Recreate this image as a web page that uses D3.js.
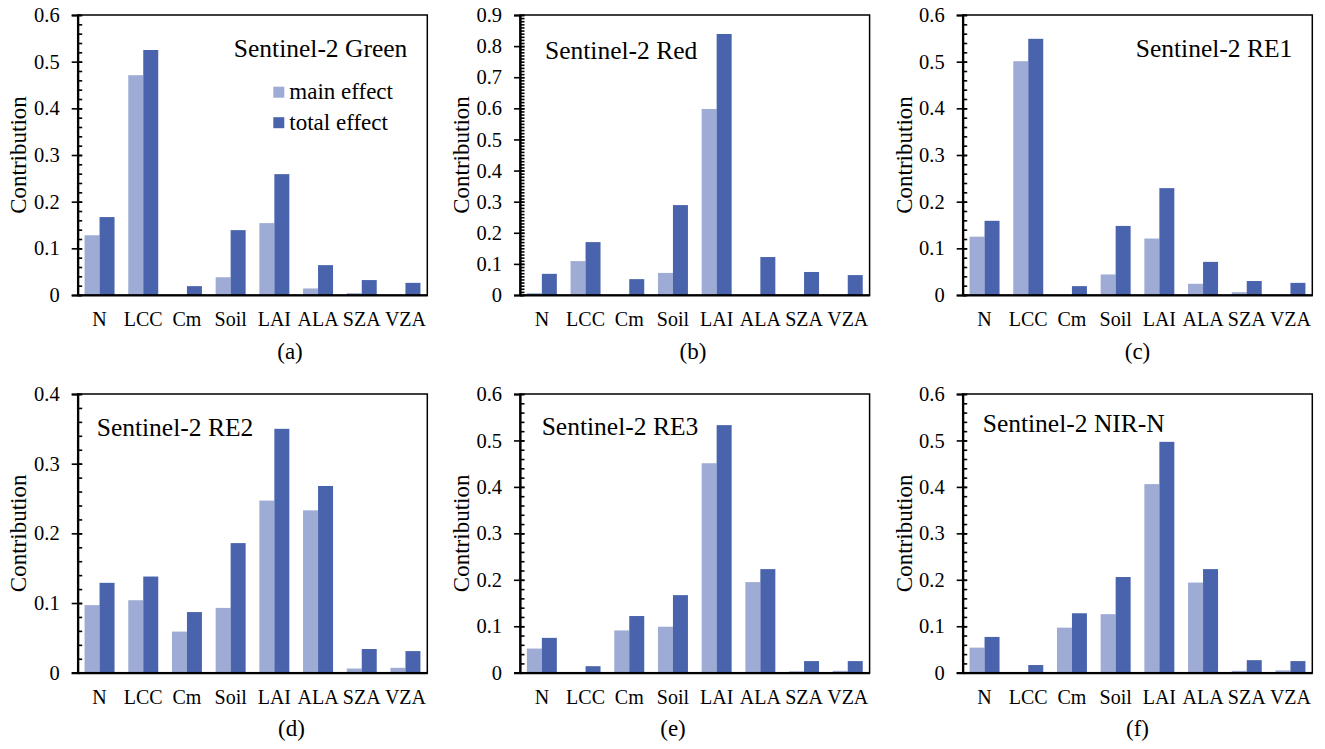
<!DOCTYPE html>
<html>
<head>
<meta charset="utf-8">
<script src="https://cdn.jsdelivr.net/npm/d3@7"></script>
<style>
  html, body { margin: 0; padding: 0; background: #ffffff; }
  svg { display: block; }
</style>
</head>
<body>
<svg id="chart" width="1325" height="749"></svg>
<script>
// ---------------- data ----------------
const categories = ["N", "LCC", "Cm", "Soil", "LAI", "ALA", "SZA", "VZA"];
const seriesNames = ["main effect", "total effect"];

const greenMain  = [0.128, 0.471, 0.000, 0.038, 0.154, 0.014, 0.004, 0.000];
const greenTotal = [0.167, 0.525, 0.019, 0.139, 0.259, 0.064, 0.032, 0.026];
const redMain    = [0.006, 0.109, 0.000, 0.071, 0.598, 0.000, 0.000, 0.000];
const redTotal   = [0.068, 0.170, 0.051, 0.289, 0.839, 0.122, 0.074, 0.064];
const re1Main    = [0.125, 0.501, 0.000, 0.044, 0.121, 0.024, 0.006, 0.000];
const re1Total   = [0.159, 0.549, 0.019, 0.148, 0.229, 0.071, 0.030, 0.026];
const re2Main    = [0.097, 0.104, 0.059, 0.093, 0.247, 0.233, 0.006, 0.007];
const re2Total   = [0.129, 0.138, 0.087, 0.186, 0.350, 0.268, 0.034, 0.031];
const re3Main    = [0.052, 0.000, 0.091, 0.099, 0.451, 0.195, 0.003, 0.004];
const re3Total   = [0.075, 0.014, 0.122, 0.167, 0.533, 0.223, 0.025, 0.025];
const nirMain    = [0.054, 0.000, 0.097, 0.126, 0.406, 0.194, 0.004, 0.005];
const nirTotal   = [0.077, 0.0165, 0.128, 0.206, 0.497, 0.223, 0.027, 0.025];

const panelTitles   = ["Sentinel-2 Green", "Sentinel-2 Red", "Sentinel-2 RE1", "Sentinel-2 RE2", "Sentinel-2 RE3", "Sentinel-2 NIR-N"];
const panelCaptions = ["(a)", "(b)", "(c)", "(d)", "(e)", "(f)"];
const yMax      = [0.6, 0.9, 0.6, 0.4, 0.6, 0.6];
const yMajor    = [0.1, 0.1, 0.1, 0.1, 0.1, 0.1];
const yMinor    = [0.02, 0.01, 0.02, 0.02, 0.02, 0.02];
const yTitle    = "Contribution";
const mainData  = [greenMain, redMain, re1Main, re2Main, re3Main, nirMain];
const totalData = [greenTotal, redTotal, re1Total, re2Total, re3Total, nirTotal];

// ---------------- font detection ----------------
const svg = d3.select("#chart");
function pickFont() {
  const cands = ["Liberation Serif", "Tinos", "Times New Roman", "Times", "Nimbus Roman", "Nimbus Roman No9 L", "FreeSerif", "Noto Serif", "DejaVu Serif"];
  const probe = svg.append("text").attr("x", -1000).attr("y", -1000).attr("font-size", 40).text("Contribution Wmil 0.123");
  probe.style("font-family", "monospace");
  const base = probe.node().getComputedTextLength();
  let found = null;
  for (const c of cands) {
    probe.style("font-family", `"${c}", monospace`);
    if (Math.abs(probe.node().getComputedTextLength() - base) > 0.5) { found = c; break; }
  }
  probe.remove();
  return found ? `"${found}", serif` : "serif";
}
const FONT = pickFont();

// ---------------- layout ----------------
const colors = ["#9eabd4", "#4a63ad"];
const W = 349.6, H = [280, 278.7];
const lefts = [77.7, 520, 962.7];
const tops = [15, 394];
const titleLayout = [
  {anchor: "end", dx: 20, dy: 41.7},
  {anchor: "start", dx: 25, dy: 44.3},
  {anchor: "end", dx: 20, dy: 42.3},
  {anchor: "start", dx: 19, dy: 42},
  {anchor: "start", dx: 21.7, dy: 41},
  {anchor: "start", dx: 20, dy: 38.3}
];
const captionX = [290, 693, 1137.5, 291.5, 673, 1137.5];
const captionDy = 63.5;

const fmt = d => d === 0 ? "0" : d3.format(".1f")(d);

for (let p = 0; p < 6; p++) {
  const col = p % 3, row = Math.floor(p / 3);
  const x0 = lefts[col], y0 = tops[row], h = H[row];
  const g = svg.append("g").attr("transform", `translate(${x0},${y0})`);

  const x = d3.scaleBand().domain(categories).range([0, W]).paddingInner(0.314).paddingOuter(0.157);
  const sub = d3.scaleBand().domain(seriesNames).range([0, x.bandwidth()]);
  const y = d3.scaleLinear().domain([0, yMax[p]]).range([h, 0]);

  const rows = categories.map((c, i) => ({cat: c, vals: [mainData[p][i], totalData[p][i]]}));
  const cg = g.selectAll("g.cat").data(rows).join("g")
    .attr("class", "cat")
    .attr("transform", d => `translate(${x(d.cat)},0)`);
  cg.selectAll("rect").data(d => d.vals.map((v, k) => ({k, v}))).join("rect")
    .attr("x", d => sub(seriesNames[d.k]))
    .attr("width", sub.bandwidth())
    .attr("y", d => y(d.v))
    .attr("height", d => h - y(d.v))
    .attr("fill", d => colors[d.k]);

  g.append("rect").attr("x", 0).attr("y", 0).attr("width", W).attr("height", h)
    .attr("fill", "none").attr("stroke", "#000").attr("stroke-width", 1.5);

  const nMinor = Math.round(yMax[p] / yMinor[p]);
  const minorVals = d3.range(0, nMinor + 1).map(i => +(i * yMinor[p]).toFixed(4));
  const minorAxis = g.append("g").call(d3.axisLeft(y).tickValues(minorVals).tickSize(-4.5).tickFormat(""));
  minorAxis.select(".domain").remove();
  minorAxis.selectAll("line").attr("stroke", "#000").attr("stroke-width", 1.6);

  const nMajor = Math.round(yMax[p] / yMajor[p]);
  const majorVals = d3.range(0, nMajor + 1).map(i => +(i * yMajor[p]).toFixed(4));
  const yAxis = g.append("g").call(d3.axisLeft(y).tickValues(majorVals).tickSizeOuter(0).tickSize(6).tickPadding(12).tickFormat(fmt));
  yAxis.attr("font-family", null).attr("font-size", null);
  yAxis.select(".domain").attr("stroke", "#000").attr("stroke-width", 2.2);
  yAxis.selectAll("line").attr("x1", 4.5).attr("x2", -6).attr("stroke", "#000").attr("stroke-width", 1.6);
  yAxis.selectAll("text").style("font-family", FONT).style("font-size", "20.5px").attr("fill", "#000").attr("x", -18);

  const xAxis = g.append("g").attr("transform", `translate(0,${h})`).call(d3.axisBottom(x).tickSize(0).tickSizeOuter(0));
  xAxis.attr("font-family", null).attr("font-size", null);
  xAxis.select(".domain").attr("stroke", "#000").attr("stroke-width", 2.2);
  xAxis.selectAll("text").style("font-family", FONT).style("font-size", "20px").attr("fill", "#000")
    .attr("y", 31).attr("dy", null);

  g.append("text")
    .attr("transform", `translate(${(col === 0 ? 26.5 : col === 1 ? 468.8 : 912) - x0},${h / 2}) rotate(-90)`)
    .attr("text-anchor", "middle")
    .style("font-family", FONT).style("font-size", "23px")
    .text(yTitle);

  const tl = titleLayout[p];
  g.append("text")
    .attr("x", tl.anchor === "end" ? W - tl.dx : tl.dx)
    .attr("y", tl.dy)
    .attr("text-anchor", tl.anchor)
    .style("font-family", FONT).style("font-size", "25.5px")
    .text(panelTitles[p]);

  svg.append("text")
    .attr("x", captionX[p])
    .attr("y", y0 + h + captionDy)
    .attr("text-anchor", "middle")
    .style("font-family", FONT).style("font-size", "23px")
    .text(panelCaptions[p]);

  if (p === 0) {
    const lg = g.append("g").attr("transform", `translate(${273.3 - x0},${86.7 - y0})`);
    seriesNames.forEach((s, k) => {
      lg.append("rect").attr("x", 0).attr("y", k * 30.5).attr("width", 11).attr("height", 11).attr("fill", colors[k]);
      lg.append("text").attr("x", 16).attr("y", k * 30.5 + 12.5)
        .style("font-family", FONT).style("font-size", "23px").text(s);
    });
  }
}
</script>
</body>
</html>
